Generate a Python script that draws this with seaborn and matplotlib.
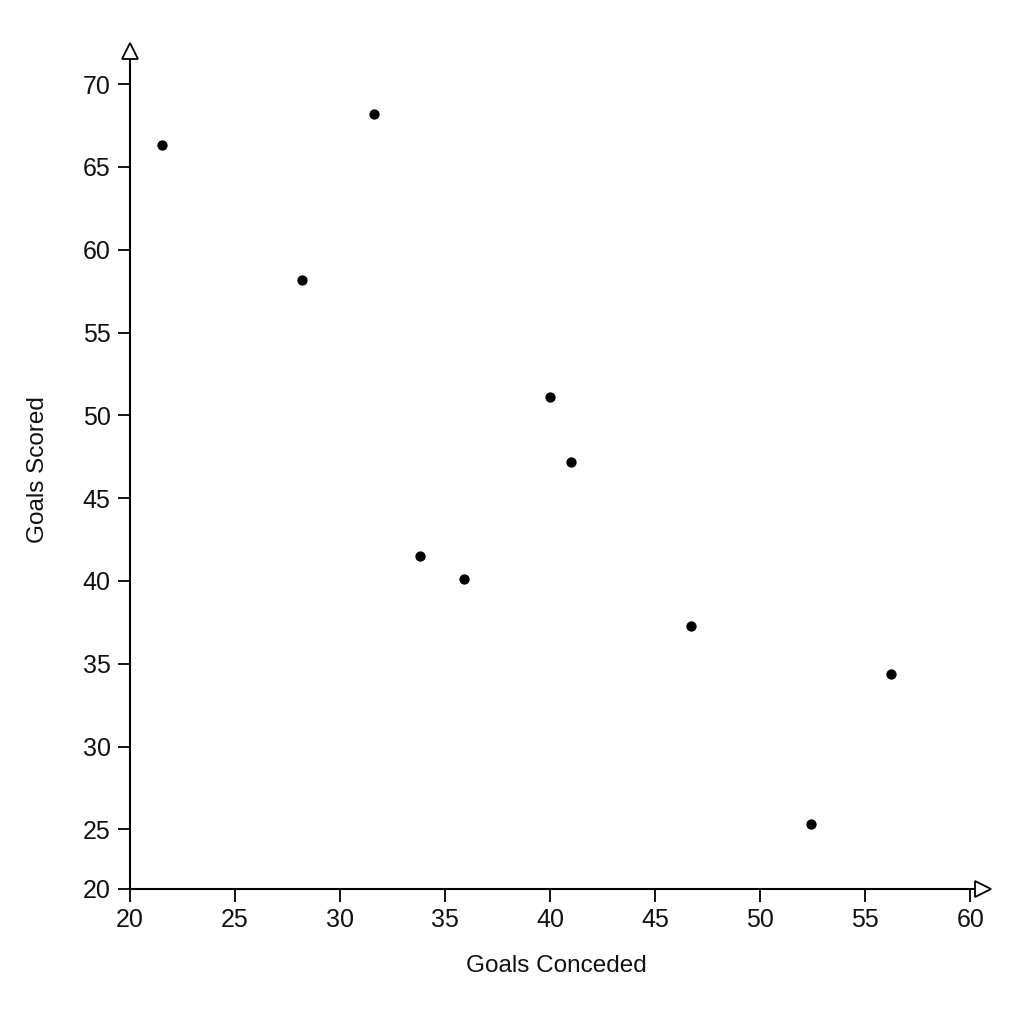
import numpy as np
import pandas as pd
import matplotlib
matplotlib.use("Agg")
import matplotlib.pyplot as plt
import seaborn as sns

# data
goals_conceded = [21.5, 31.6, 28.2, 40.0, 41.0, 33.8, 35.9, 46.7, 56.2, 52.4]
goals_scored   = [66.3, 68.2, 58.2, 51.1, 47.2, 41.5, 40.1, 37.3, 34.4, 25.3]

x_ticks = [20, 25, 30, 35, 40, 45, 50, 55, 60]
y_ticks = [25, 30, 35, 40, 45, 50, 55, 60, 65, 70]
y_bottom = 21.4   # axis is cut here, but labelled "20"
y_top = 72.0
x_right = 60.6

df = pd.DataFrame({"Goals Conceded": goals_conceded, "Goals Scored": goals_scored})

sns.set_theme(style="ticks")
plt.rcParams["font.family"] = ["Liberation Sans", "DejaVu Sans"]

fig = plt.figure(figsize=(10.24, 10.24), dpi=100)
ax = fig.add_axes([130 / 1024, 1 - 889 / 1024, 853 / 1024, 838 / 1024])

sns.scatterplot(data=df, x="Goals Conceded", y="Goals Scored", ax=ax,
                color="black", s=55, edgecolor="black", linewidth=0, zorder=3)

ax.set_xlim(20, x_right)
ax.set_ylim(y_bottom, y_top)
ax.set_xticks(x_ticks)
ax.set_xticklabels([str(t) for t in x_ticks])
ax.set_yticks([y_bottom] + y_ticks)
ax.set_yticklabels(["20"] + [str(t) for t in y_ticks])

sns.despine(ax=ax)
for side in ["left", "bottom"]:
    ax.spines[side].set_color("black")
    ax.spines[side].set_linewidth(1.5)

ax.tick_params(axis="both", direction="out", length=9, width=1.3,
               color="black", labelsize=18, labelcolor="#111111", pad=5)

# open arrowheads at the ends of both axes
ax.plot(1, 0, marker=">", markersize=11, markerfacecolor="white",
        markeredgecolor="black", markeredgewidth=1.3,
        transform=ax.transAxes, clip_on=False, zorder=5)
ax.plot(0, 1, marker="^", markersize=11, markerfacecolor="white",
        markeredgecolor="black", markeredgewidth=1.3,
        transform=ax.transAxes, clip_on=False, zorder=5)

ax.set_xlabel("Goals Conceded", fontsize=17.5, color="#111111", labelpad=16)
ax.set_ylabel("Goals Scored", fontsize=17.5, color="#111111", labelpad=24)

fig.savefig("out.png", dpi=100, facecolor="white")
